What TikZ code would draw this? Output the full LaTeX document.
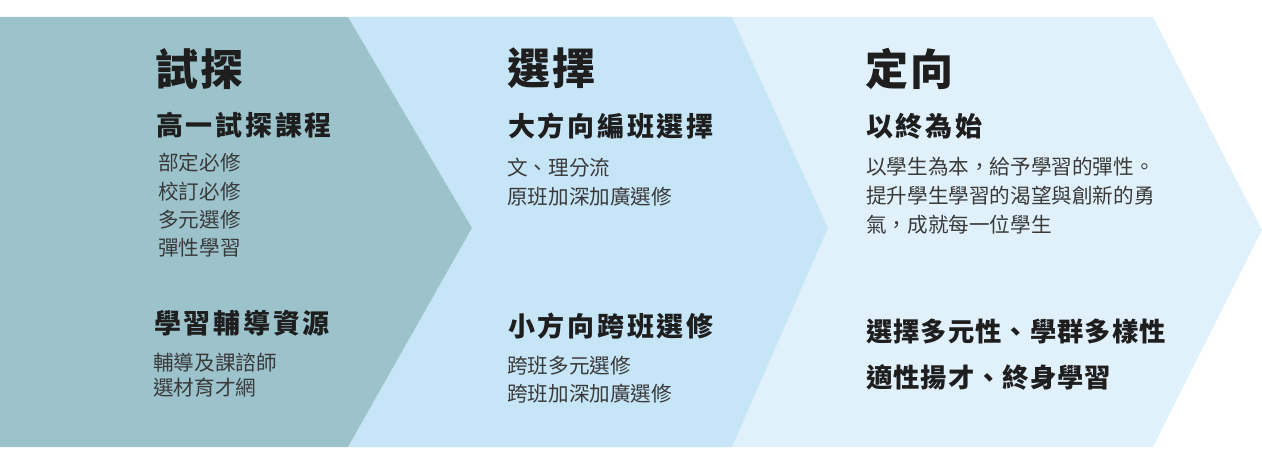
\documentclass[tikz,border=0pt]{standalone}
\usepackage{fontspec}
\setmainfont{Noto Sans CJK TC}
\usetikzlibrary{positioning}
\usepackage{xcolor}
\definecolor{stepone}{HTML}{9CC3CC}
\definecolor{steptwo}{HTML}{C6E5F7}
\definecolor{stepthree}{HTML}{E1F1FB}
\definecolor{inkdark}{HTML}{1E1E1E}
\definecolor{inkgray}{HTML}{3A3A3A}

\begin{document}
\begin{tikzpicture}[x=1pt,y=-1pt,
    title/.style={font=\fontsize{43}{43}\selectfont\bfseries\addfontfeature{LetterSpace=5},
        text=inkdark, anchor=west, inner sep=0pt},
    sub/.style={font=\fontsize{27}{27}\selectfont\bfseries\addfontfeature{LetterSpace=10},
        text=inkdark, anchor=west, inner sep=0pt},
    subwide/.style={font=\fontsize{26.3}{26.3}\selectfont\bfseries\addfontfeature{LetterSpace=4},
        text=inkdark, anchor=west, inner sep=0pt},
    item/.style={font=\fontsize{20.6}{28.3}\selectfont, text=inkgray,
        anchor=west, inner sep=0pt, align=left},
    itemtight/.style={item, font=\fontsize{20.6}{25}\selectfont},
    itemloose/.style={item, font=\fontsize{20.6}{29}\selectfont}]
    \useasboundingbox (0,0) rectangle (1262,457);

    % chevrons, back to front
    \fill[stepthree] (732,17) -- (1153,17) -- (1262,230) -- (1153,447)
        -- (732,447) -- (828,228) -- cycle;
    \fill[steptwo] (348,17) -- (732,17) -- (828,228) -- (732,447)
        -- (348,447) -- (472,228) -- cycle;
    \fill[stepone] (0,17) -- (348,17) -- (472,228) -- (348,447)
        -- (0,447) -- cycle;

    % 試探
    \node[title] (t1) at (155,69) {試探};
    \node[sub] (s1a) at (156,125) {高一試探課程};
    \node[item] (i1a) at (158,205.5) {部定必修\\校訂必修\\多元選修\\彈性學習};
    \node[sub] (s1b) at (154,323.5) {學習輔導資源};
    \node[itemtight] (i1b) at (153,375) {輔導及課諮師\\選材育才網};

    % 選擇
    \node[title] (t2) at (507,68) {選擇};
    \node[sub] (s2a) at (508,126.5) {大方向編班選擇};
    \node[item] (i2a) at (507,182) {文、理分流\\原班加深加廣選修};
    \node[sub] (s2b) at (508,326) {小方向跨班選修};
    \node[item] (i2b) at (507,380) {跨班多元選修\\跨班加深加廣選修};

    % 定向
    \node[title] (t3) at (865,69) {定向};
    \node[sub] (s3a) at (866,126.5) {以終為始};
    \node[itemloose] (i3a) at (866,196) {以學生為本，給予學習的彈性。\\
        提升學生學習的渴望與創新的勇\\氣，成就每一位學生};
    \node[subwide] (s3b) at (866,331) {選擇多元性、學群多樣性};
    \node[subwide] (s3c) at (866,377.5) {適性揚才、終身學習};

\end{tikzpicture}
\end{document}
